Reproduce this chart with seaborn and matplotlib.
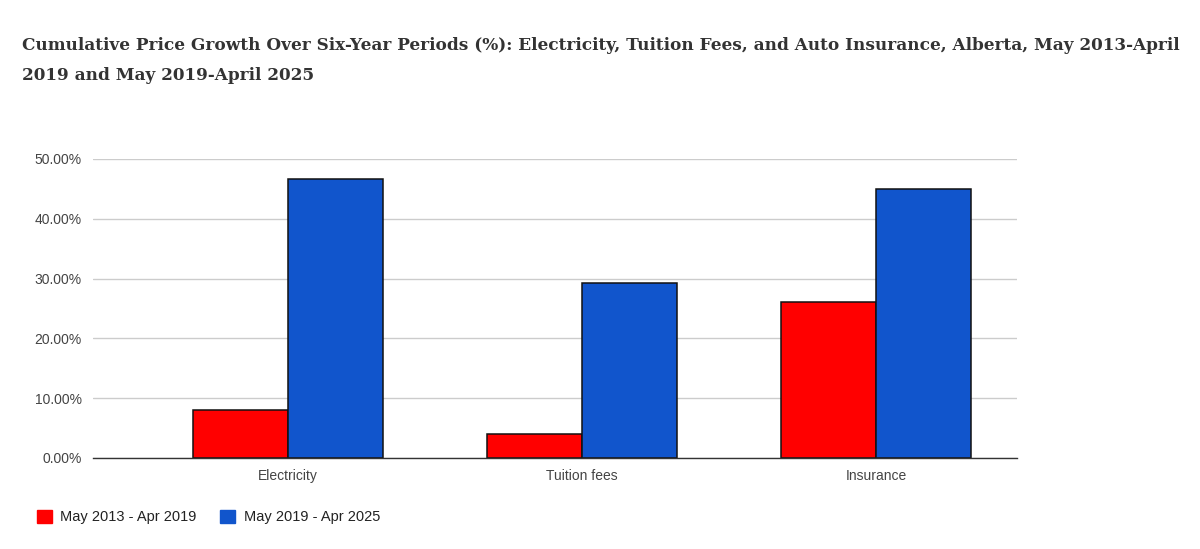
import pandas as pd
import seaborn as sns
import matplotlib.pyplot as plt
from matplotlib.patches import Patch

categories = ['Electricity', 'Tuition fees', 'Insurance']
periods = ['May 2013 - Apr 2019', 'May 2019 - Apr 2025']
growth_2013_2019 = [8.0, 4.0, 26.1]
growth_2019_2025 = [46.7, 29.3, 45.0]
colors = ['#FF0000', '#1155CC']

df = pd.DataFrame({
    'category': categories * 2,
    'period': [periods[0]] * 3 + [periods[1]] * 3,
    'growth': growth_2013_2019 + growth_2019_2025,
})

sns.set_style('white')
plt.rcParams['font.family'] = ['Liberation Sans', 'DejaVu Sans']

fig = plt.figure(figsize=(12, 5.49), dpi=100)
ax = fig.add_axes([0.0775, 0.1658, 0.77, 0.5446])

sns.barplot(data=df, x='category', y='growth', hue='period', palette=colors,
            saturation=1, width=0.646, gap=0, edgecolor='#111111', linewidth=1.1,
            legend=False, ax=ax)

ax.set_xlim(-0.663, 2.48)
ax.set_ylim(0, 50)
ax.set_yticks([0, 10, 20, 30, 40, 50])
ax.set_yticklabels(['{:.2f}%'.format(v) for v in [0, 10, 20, 30, 40, 50]])
ax.grid(axis='y', color='#cccccc', linewidth=1)
ax.set_axisbelow(True)
for s in ['top', 'right', 'left']:
    ax.spines[s].set_visible(False)
ax.spines['bottom'].set_color('#333333')
ax.spines['bottom'].set_linewidth(1)
ax.tick_params(axis='both', length=0, labelsize=10, labelcolor='#444444', pad=8)
ax.set_xlabel('')
ax.set_ylabel('')

title_style = dict(family='DejaVu Serif', weight='bold', fontsize=12.2,
                   color='#333333', va='center')
fig.text(0.0183, 0.918,
         'Cumulative Price Growth Over Six-Year Periods (%): Electricity, Tuition Fees, and Auto Insurance, Alberta, May 2013-April',
         **title_style)
fig.text(0.0183, 0.862, '2019 and May 2019-April 2025', **title_style)

handles = [Patch(facecolor=c, edgecolor=c) for c in colors]
fig.legend(handles, periods, loc='center left', bbox_to_anchor=(0.02, 0.058),
           frameon=False, fontsize=10.5, handlelength=1.0, handleheight=1.0,
           handletextpad=0.6, columnspacing=1.6, ncol=2, labelcolor='#222222')

fig.savefig('out.png', dpi=100, facecolor='white')
